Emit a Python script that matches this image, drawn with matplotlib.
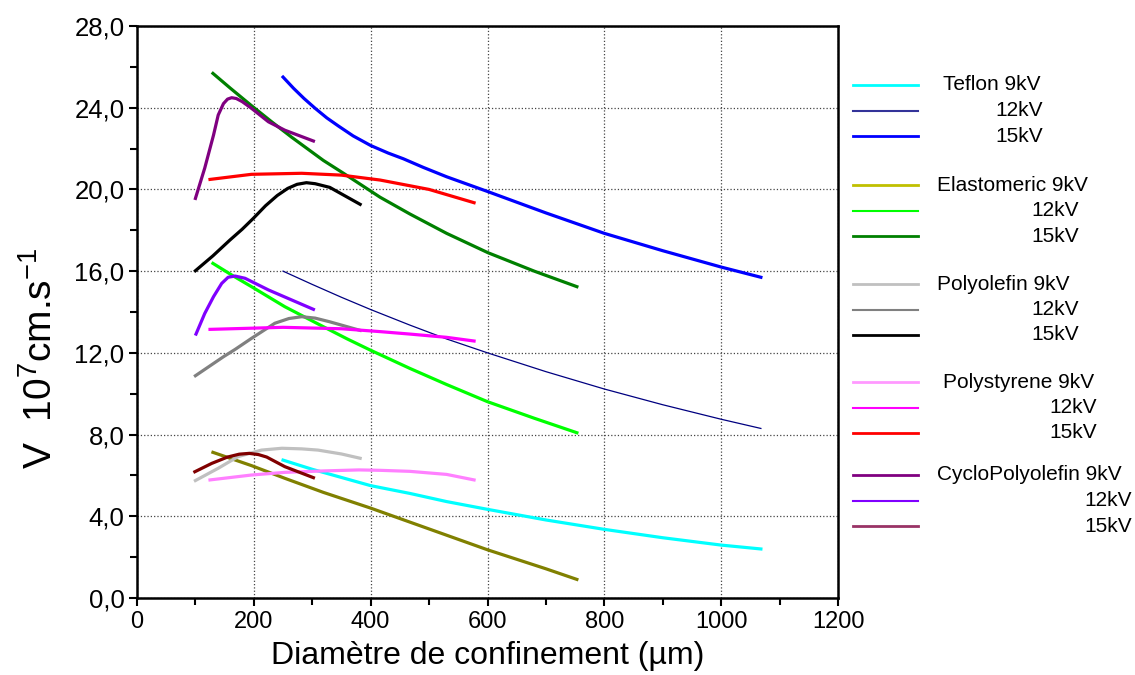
import matplotlib
matplotlib.use('Agg')
import matplotlib.pyplot as plt
from matplotlib.lines import Line2D
from matplotlib.ticker import MultipleLocator, FuncFormatter

plt.rcParams['font.family'] = ['Liberation Sans', 'DejaVu Sans']
plt.rcParams['mathtext.default'] = 'regular'

# Teflon
teflon9_x = [250, 300, 350, 400, 467, 530, 600, 700, 800, 900, 1000, 1068]
teflon9_y = [6.75, 6.3, 5.9, 5.5, 5.12, 4.72, 4.34, 3.82, 3.36, 2.95, 2.59, 2.4]
teflon12_x = [250, 300, 350, 400, 467, 530, 600, 700, 800, 900, 1000, 1068]
teflon12_y = [16.0, 15.35, 14.72, 14.12, 13.36, 12.68, 12.0, 11.08, 10.23, 9.46, 8.75, 8.3]
teflon15_x = [250, 268, 286, 305, 325, 345, 370, 400, 430, 456, 490, 530, 600, 700, 800, 900, 1000, 1068]
teflon15_y = [25.5, 24.95, 24.45, 23.97, 23.5, 23.1, 22.62, 22.15, 21.78, 21.5, 21.08, 20.62, 19.9,
              18.85, 17.85, 17.0, 16.2, 15.7]

# Elastomeric
elast9_x = [130, 196, 253, 319, 400, 500, 600, 700, 753]
elast9_y = [7.13, 6.48, 5.86, 5.17, 4.4, 3.38, 2.36, 1.43, 0.91]
elast12_x = [130, 165, 196, 253, 319, 360, 399, 467, 530, 600, 680, 753]
elast12_y = [16.38, 15.76, 15.24, 14.26, 13.28, 12.68, 12.14, 11.24, 10.45, 9.61, 8.8, 8.09]
elast15_x = [130, 160, 196, 231, 265, 319, 353, 416, 467, 530, 601, 680, 753]
elast15_y = [25.68, 24.95, 24.1, 23.3, 22.55, 21.42, 20.8, 19.62, 18.8, 17.85, 16.9, 16.0, 15.24]

# Polyolefin
poly9_x = [100, 139, 173, 213, 248, 282, 310, 350, 382]
poly9_y = [5.75, 6.35, 6.92, 7.24, 7.33, 7.3, 7.24, 7.05, 6.84]
poly12_x = [100, 148, 168, 196, 236, 260, 282, 305, 330, 382]
poly12_y = [10.88, 11.81, 12.17, 12.71, 13.45, 13.68, 13.77, 13.7, 13.52, 13.1]
poly15_x = [100, 130, 159, 180, 199, 220, 240, 258, 274, 290, 305, 330, 382]
poly15_y = [16.02, 16.75, 17.52, 18.05, 18.58, 19.2, 19.7, 20.05, 20.25, 20.33, 20.28, 20.1, 19.27]

# Polystyrene
pstyr9_x = [125, 196, 253, 319, 380, 416, 467, 530, 577]
pstyr9_y = [5.78, 6.02, 6.15, 6.22, 6.27, 6.25, 6.2, 6.05, 5.78]
pstyr12_x = [125, 250, 350, 416, 467, 530, 577]
pstyr12_y = [13.15, 13.25, 13.18, 13.04, 12.92, 12.76, 12.58]
pstyr15_x = [125, 196, 282, 350, 416, 500, 577]
pstyr15_y = [20.49, 20.74, 20.79, 20.7, 20.46, 20.0, 19.35]

# CycloPolyolefin
cyclo9_x = [99, 128, 155, 175, 192, 208, 222, 253, 302]
cyclo9_y = [6.18, 6.59, 6.9, 7.04, 7.08, 7.02, 6.9, 6.43, 5.89]
cyclo12_x = [101, 116, 131, 145, 156, 168, 185, 225, 302]
cyclo12_y = [12.92, 13.93, 14.75, 15.4, 15.7, 15.76, 15.65, 15.08, 14.13]
cyclo15_x = [100, 116, 131, 139, 148, 155, 162, 170, 180, 196, 225, 253, 302]
cyclo15_y = [19.56, 21.05, 22.66, 23.64, 24.2, 24.42, 24.49, 24.45, 24.3, 23.97, 23.31, 22.9, 22.37]

groups = ['Teflon', 'Elastomeric', 'Polyolefin', 'Polystyrene', 'CycloPolyolefin']
voltages = ['9kV', '12kV', '15kV']

fig = plt.figure(figsize=(11.35, 6.75), dpi=100)
ax = fig.add_axes([137 / 1135, 1 - 598 / 675, 701 / 1135, 572 / 675])

thick = 2.3
ax.plot(teflon9_x, teflon9_y, color='#00ffff', lw=thick)
ax.plot(teflon12_x, teflon12_y, color='#000080', lw=0.9)
ax.plot(teflon15_x, teflon15_y, color='#0000ff', lw=thick)
ax.plot(elast9_x, elast9_y, color='#808000', lw=thick)
ax.plot(elast12_x, elast12_y, color='#00ff00', lw=thick)
ax.plot(elast15_x, elast15_y, color='#008000', lw=thick)
ax.plot(poly9_x, poly9_y, color='#c0c0c0', lw=thick)
ax.plot(poly12_x, poly12_y, color='#808080', lw=thick)
ax.plot(poly15_x, poly15_y, color='#000000', lw=thick)
ax.plot(pstyr9_x, pstyr9_y, color='#ff80ff', lw=thick)
ax.plot(pstyr12_x, pstyr12_y, color='#ff00ff', lw=thick)
ax.plot(pstyr15_x, pstyr15_y, color='#ff0000', lw=thick)
ax.plot(cyclo9_x, cyclo9_y, color='#800000', lw=thick)
ax.plot(cyclo12_x, cyclo12_y, color='#8000ff', lw=thick)
ax.plot(cyclo15_x, cyclo15_y, color='#800080', lw=thick)

ax.set_xlim(0, 1200)
ax.set_ylim(0, 28)
ax.xaxis.set_major_locator(MultipleLocator(200))
ax.xaxis.set_minor_locator(MultipleLocator(100))
ax.yaxis.set_major_locator(MultipleLocator(4))
ax.yaxis.set_minor_locator(MultipleLocator(2))
ax.yaxis.set_major_formatter(FuncFormatter(lambda v, p: ('%.1f' % v).replace('.', ',')))
ax.tick_params(which='major', direction='out', length=6, width=1.5, pad=3)
ax.tick_params(which='minor', direction='out', length=5, width=1.5)
ax.tick_params(axis='x', labelsize=17)
ax.tick_params(axis='y', labelsize=18.5)
ax.tick_params(top=False, right=False)
for s in ax.spines.values():
    s.set_linewidth(1.8)
ax.grid(True, which='major', linestyle=':', color='#444444', lw=0.9)

ax.set_xlabel('Diamètre de confinement (µm)', fontsize=23)
ax.xaxis.set_label_coords(0.5, -0.075)
ax.set_ylabel('V  10$^{7}$cm.s$^{-1}$', fontsize=28)
ax.yaxis.set_label_coords(-0.11, 0.42)

# manual legend (pixel layout of the original)
leg_colors = ['#00ffff', '#333399', '#0000ff',
              '#c0c000', '#00ff00', '#008000',
              '#c0c0c0', '#808080', '#000000',
              '#ff99ff', '#ff00ff', '#ff0000',
              '#800080', '#8000ff', '#993366']
leg_widths = [2, 1.5, 2] * 5
group_top = [85, 185, 284, 382, 475]
head_left = [943, 937, 937, 943, 937]
sub_right = [1043, 1079, 1079, 1097, 1132]
W, H = 1135, 675
k = 0
for g, name in enumerate(groups):
    for r, v in enumerate(voltages):
        yp = group_top[g] + r * 25.5
        fy = 1 - yp / H
        fig.add_artist(Line2D([853 / W, 918 / W], [fy, fy], color=leg_colors[k], lw=leg_widths[k]))
        if r == 0:
            fig.text(head_left[g] / W, fy, name + ' ' + v, fontsize=15, ha='left', va='center')
        else:
            fig.text(sub_right[g] / W, fy, v, fontsize=15, ha='right', va='center')
        k += 1

fig.savefig('out.png', dpi=100)
